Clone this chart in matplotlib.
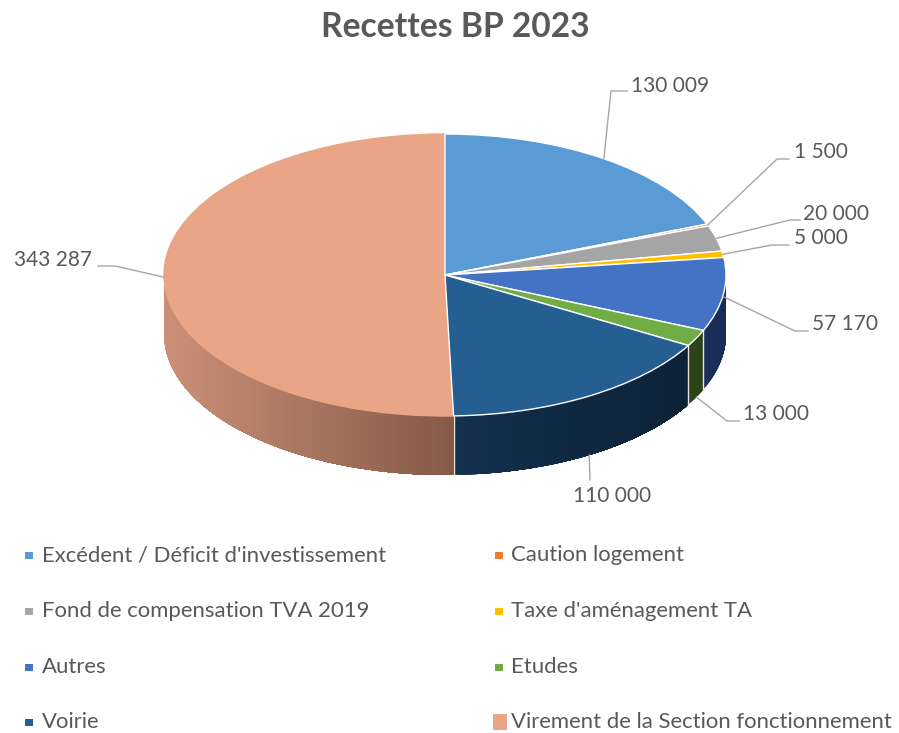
import matplotlib
matplotlib.use("Agg")
import matplotlib.pyplot as plt
import numpy as np

plt.rcParams['font.family'] = ['Lato', 'DejaVu Sans']

categories = ["Excédent / Déficit d'investissement", "Caution logement",
              "Fond de compensation TVA 2019", "Taxe d'aménagement TA",
              "Autres", "Etudes", "Voirie", "Virement de la Section fonctionnement"]
values = [130009, 1500, 20000, 5000, 57170, 13000, 110000, 343287]
value_labels = ["130 009", "1 500", "20 000", "5 000", "57 170", "13 000", "110 000", "343 287"]
colors = ["#5B9BD5", "#ED7D31", "#A5A5A5", "#FFC000", "#4472C4", "#70AD47", "#255E91", "#EAA586"]

W, H = 899, 733
cx, cy, rx, ry = 445, 275, 281, 141
depth = 59 / ry
grey = "#595959"

# wall colours, left end then right end
wall_left = {4: "#1B2F5C", 5: "#2D4519", 6: "#13304D", 7: "#CC9078"}
wall_right = {4: "#1A2C55", 5: "#2B4118", 6: "#0C2236", 7: "#845A47"}

# label text pos, leader elbow pos, wall offset of leader start
label_pos = [(631, 86), (794, 152), (803, 214), (794, 238), (812, 324), (743, 414), (573, 496), (14, 260)]
elbows = [[(611, 91), (627, 91)], [(777, 159), (789, 159)], [(790, 220), (800, 220)],
          [(772, 245), (789, 245)], [(795, 331), (808, 331)], [(727, 421), (739, 421)],
          [(590, 480)], [(115, 266), (98, 266)]]
on_wall = [0, 0, 0, 0, 2, 59, 59, 0]

fig = plt.figure(figsize=(W / 100, H / 100), dpi=100)

ax = fig.add_axes([(cx - rx) / W, 1 - (cy + ry) / H, 2 * rx / W, 2 * ry / H])
wedges, _ = ax.pie(values, colors=colors, startangle=90, counterclock=False, radius=1,
                   wedgeprops=dict(edgecolor="white", linewidth=1.0, zorder=5))
ax.set_aspect("auto")
ax.set_xlim(-1, 1)
ax.set_ylim(-1, 1)
# salmon slice has no white rim, neighbours draw the radial lines over it
wedges[7].set_edgecolor(colors[7])
wedges[7].set_zorder(4)

frac = np.cumsum(values) / np.sum(values)
ends = frac * 360
starts = np.concatenate([[0], ends[:-1]])


def shade(c1, c2, s):
    a = np.array(matplotlib.colors.to_rgb(c1))
    b = np.array(matplotlib.colors.to_rgb(c2))
    return tuple(a + (b - a) * s)


# side wall, only the front half of the disc shows
# each step paints to the end of the slice so no seams show between steps
for i in range(len(values)):
    t0 = max(starts[i], 90)
    t1 = min(ends[i], 270)
    if t1 <= t0:
        continue
    edges = np.linspace(t1, t0, int(t1 - t0) + 2)
    xs_all = np.sin(np.radians(edges))
    x_lo, x_hi = xs_all.min(), xs_all.max()
    for a in edges[:-1]:
        tt = np.radians(np.linspace(t0, a, 60))
        x = np.sin(tt)
        y = np.cos(tt)
        s = (np.sin(np.radians(a)) - x_lo) / (x_hi - x_lo)
        c = shade(wall_left[i], wall_right[i], s)
        ax.fill(np.r_[x, x[::-1]], np.r_[y, y[::-1] - depth], color=c, lw=0,
                clip_on=False, zorder=2 + 0.1 * (7 - i))
    # white seam at the end of the slice
    if ends[i] < 270:
        e = np.radians(ends[i])
        ax.plot([np.sin(e)] * 2, [np.cos(e), np.cos(e) - depth], color="#E4E4E4", lw=1.0,
                clip_on=False, zorder=3)

# overlay in pixels for labels and legend
ov = fig.add_axes([0, 0, 1, 1])
ov.set_xlim(0, W)
ov.set_ylim(H, 0)
ov.axis("off")
ov.patch.set_alpha(0)

ov.text(455, 27, "Recettes BP 2023", ha="center", va="center", fontsize=24.2,
        fontweight="bold", color=grey)

mids = (starts + ends) / 2
for i, lab in enumerate(value_labels):
    m = np.radians(mids[i])
    sx = cx + rx * np.sin(m)
    sy = cy - ry * np.cos(m) + on_wall[i]
    pts = [(sx, sy)] + elbows[i]
    ov.plot([p[0] for p in pts], [p[1] for p in pts], color="#A6A6A6", lw=1.0, zorder=6)
    ov.text(label_pos[i][0], label_pos[i][1], lab, ha="left", va="center", fontsize=15,
            color=grey, zorder=7)

# legend, two columns
leg_x = [29, 499]
leg_y = [555, 611, 667, 722]
for i, name in enumerate(categories):
    lx = leg_x[i % 2]
    ly = leg_y[i // 2]
    big = i == 7
    w, h = (14, 16) if big else (8, 7)
    ov.add_patch(plt.Rectangle((lx - w / 2 + (1 if big else 0), ly - h / 2), w, h, color=colors[i], lw=0))
    ov.text(lx + (13 if i % 2 == 0 else 12), ly, name, ha="left", va="center", fontsize=15.9,
            color=grey)

fig.savefig("out.png", dpi=100, facecolor="white")
